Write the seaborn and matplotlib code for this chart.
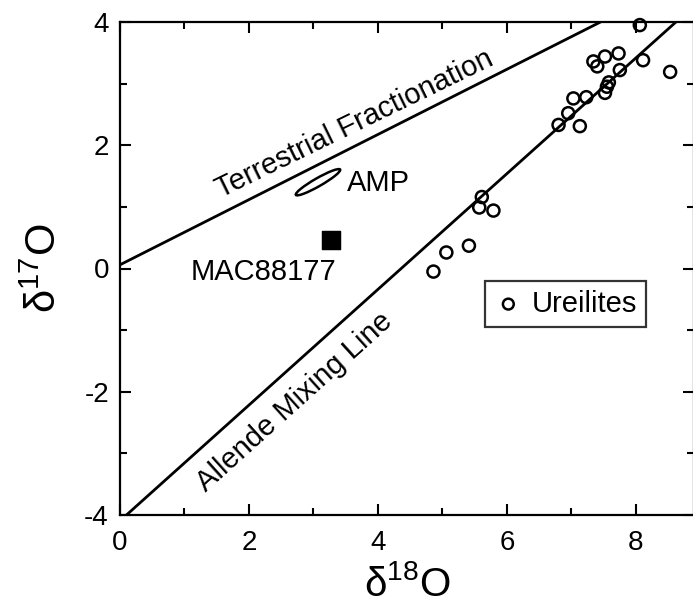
import matplotlib
matplotlib.use("Agg")
import matplotlib.pyplot as plt
import seaborn as sns
import pandas as pd
from matplotlib.patches import Ellipse
from matplotlib.ticker import MultipleLocator

# ---- data ----
ure_d18 = [4.86, 5.06, 5.41, 5.61, 5.57, 5.79, 6.80, 6.95, 7.03, 7.13, 7.23,
           7.34, 7.52, 7.73, 7.40, 7.75, 7.55, 7.52, 7.58, 8.06, 8.11, 8.53]
ure_d17 = [-0.05, 0.26, 0.37, 1.16, 0.99, 0.94, 2.33, 2.52, 2.76, 2.31, 2.78,
           3.36, 3.44, 3.49, 3.28, 3.22, 2.95, 2.85, 3.02, 3.95, 3.38, 3.19]
mac_d18 = [3.27]
mac_d17 = [0.46]
amp_center = (3.07, 1.40)
tf_x = [0.0, 7.45]
tf_y = [0.06, 4.0]
am_x = [0.10, 8.62]
am_y = [-4.0, 4.0]
xticks = [0, 2, 4, 6, 8]
yticks = [-4, -2, 0, 2, 4]

sns.set_theme(style="ticks")
plt.rcParams["font.family"] = ["Liberation Sans", "DejaVu Sans"]
plt.rcParams["mathtext.fontset"] = "custom"
plt.rcParams["mathtext.rm"] = "Liberation Sans"
plt.rcParams["mathtext.it"] = "Liberation Sans"
plt.rcParams["axes.unicode_minus"] = False
plt.rcParams["text.color"] = "black"
plt.rcParams["axes.labelcolor"] = "black"
plt.rcParams["xtick.color"] = "black"
plt.rcParams["ytick.color"] = "black"

W, H = 693, 613
fig = plt.figure(figsize=(W / 100, H / 100), dpi=100)
ax = fig.add_axes([120 / W, 1 - 515 / H, 574 / W, 493 / H])
ax.set_xlim(0, 8.9)
ax.set_ylim(-4, 4)

lw_line = 2.0
ax.plot(tf_x, tf_y, color="black", lw=lw_line)
ax.plot(am_x, am_y, color="black", lw=lw_line)

df = pd.DataFrame({"d18": ure_d18, "d17": ure_d17})
sns.scatterplot(data=df, x="d18", y="d17", ax=ax, marker="o", s=75,
                facecolor="none", edgecolor="black", linewidth=1.8,
                label="Ureilites", zorder=3, clip_on=False)
dm = pd.DataFrame({"d18": mac_d18, "d17": mac_d17})
sns.scatterplot(data=dm, x="d18", y="d17", ax=ax, marker="s", s=170,
                color="black", edgecolor="black", zorder=3, legend=False)

ax.add_patch(Ellipse(amp_center, width=0.8, height=0.13, angle=31,
                     fill=False, ec="black", lw=1.8))

fs = 21
ax.text(3.52, 1.38, "AMP", fontsize=fs, va="center", ha="left")
ax.text(1.10, -0.05, "MAC88177", fontsize=fs, va="center", ha="left")
ax.text(3.64, 2.35, "Terrestrial Fractionation", fontsize=fs,
        rotation=26, rotation_mode="anchor", ha="center", va="center")
ax.text(2.71, -2.16, "Allende Mixing Line", fontsize=fs,
        rotation=42, rotation_mode="anchor", ha="center", va="center")

ax.set_xticks(xticks)
ax.set_yticks(yticks)
ax.set_xticklabels([str(v) for v in xticks])
ax.set_yticklabels([str(v) for v in yticks])
ax.xaxis.set_minor_locator(MultipleLocator(1))
ax.yaxis.set_minor_locator(MultipleLocator(1))
ax.tick_params(which="both", direction="in", top=True, right=True,
               width=1.5, color="black", labelsize=20, labelcolor="black")
ax.tick_params(which="major", length=8)
ax.tick_params(axis="x", which="major", pad=11)
ax.tick_params(axis="y", which="major", pad=8)
ax.tick_params(which="minor", length=5)
for sp in ax.spines.values():
    sp.set_linewidth(1.6)
    sp.set_color("black")

ax.set_xlabel("δ$^{18}$O", fontsize=29, labelpad=6)
ax.set_ylabel("δ$^{17}$O", fontsize=30, labelpad=14)

leg = ax.legend(loc="upper left", bbox_to_anchor=(485 / W, 1 - 281 / H),
                bbox_transform=fig.transFigure, borderaxespad=0,
                fontsize=fs, frameon=True, fancybox=False, handletextpad=0.3,
                handlelength=1.0, borderpad=0.3, markerscale=0.9)
leg.get_frame().set_edgecolor("black")
leg.get_frame().set_linewidth(1.6)

fig.savefig("out.png", dpi=100)
